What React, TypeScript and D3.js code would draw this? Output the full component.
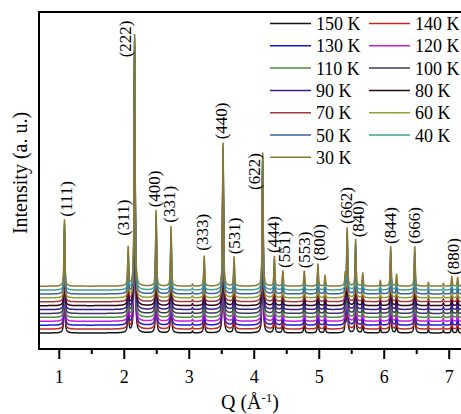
import React from "react";
import * as d3 from "d3";

// ---- data ----
const temps = ["150 K", "140 K", "130 K", "120 K", "110 K", "100 K", "90 K", "80 K", "70 K", "60 K", "50 K", "40 K", "30 K"];
const seriesColors = ["#151515", "#c0282a", "#1a1ad0", "#c81ed6", "#4a8c3e", "#3a3a58", "#3a1890", "#2a0618", "#a23a3a", "#8ea232", "#3a62aa", "#43a094", "#8c7630"];
const seriesOffset = [0, 39, 78, 117, 156, 195, 234, 273, 312, 351, 390, 429, 468];

const peakQ = [1.08, 2.06, 2.16, 2.49, 2.72, 3.05, 3.23, 3.52, 3.69, 4.13, 4.31, 4.44, 4.77, 4.98, 5.09, 5.40, 5.43, 5.56, 5.67, 5.94, 6.10, 6.19, 6.47, 6.68, 6.91, 7.04, 7.13];
const peakH = [670, 390, 2520, 760, 600, 20, 305, 1440, 295, 1340, 300, 155, 155, 225, 105, 110, 580, 470, 135, 55, 400, 115, 400, 38, 28, 95, 85];

const labelText = ["(111)", "(311)", "(222)", "(400)", "(331)", "(333)", "(440)", "(531)", "(622)", "(444)", "(551)", "(553)", "(800)", "(662)", "(840)", "(844)", "(666)", "(880)"];
const labelQ = [1.11, 1.995, 2.026, 2.46, 2.70, 3.20, 3.50, 3.69, 4.01, 4.30, 4.46, 4.77, 5.00, 5.42, 5.61, 6.09, 6.46, 7.06];
const labelBase = [1163, 973, 2757, 1257, 1103, 823, 1937, 787, 1430, 800, 650, 647, 720, 1090, 957, 890, 890, 580];

const xMajorTicks = [1, 2, 3, 4, 5, 6, 7];
const xMinorTicks = [1.5, 2.5, 3.5, 4.5, 5.5, 6.5];

const W = 461, H = 414;
const left = 39, top = 12, bottom = 349, right = 470;

export default function App() {
  const x = d3.scaleLinear().domain([0.688, 7.32]).range([left, right]);
  const y = d3.scaleLinear().domain([-160, 3210]).range([bottom, top]);

  const gamma = 0.009;
  const sigma = 0.006;
  const eta = 0.7;
  const profile = (q: number) => {
    let s = 0;
    for (let i = 0; i < peakQ.length; i++) {
      const d = q - peakQ[i];
      const lor = (gamma * gamma) / (d * d + gamma * gamma);
      const gau = Math.exp(-(d * d) / (2 * sigma * sigma));
      s += peakH[i] * (eta * lor + (1 - eta) * gau);
    }
    return s;
  };
  const qs = d3.range(0.69, 7.32, 0.0015);
  const base = qs.map((q) => [q, profile(q)] as [number, number]);

  const line = d3
    .line<[number, number]>()
    .x((d) => x(d[0]))
    .y((d) => y(d[1]));

  const serif = "'Liberation Serif', 'Times New Roman', serif";

  return (
    <svg width={W} height={H} style={{ position: "fixed", left: 0, top: 0, background: "#fff" }} fontFamily={serif}>
      <defs>
        <clipPath id="plotClip">
          <rect x={left} y={top} width={right - left} height={bottom - top} />
        </clipPath>
      </defs>
      <g clipPath="url(#plotClip)">
        {temps.map((t, i) => (
          <path
            key={t}
            d={line(base.map((p) => [p[0], p[1] + seriesOffset[i]] as [number, number])) || ""}
            fill="none"
            stroke={seriesColors[i]}
            strokeWidth={1.5}
          />
        ))}
      </g>
      {/* frame */}
      <line x1={left} x2={W + 5} y1={top} y2={top} stroke="#000" strokeWidth={2} />
      <line x1={left} x2={W + 5} y1={bottom} y2={bottom} stroke="#000" strokeWidth={2} />
      <line x1={left} x2={left} y1={top - 1} y2={bottom + 1} stroke="#000" strokeWidth={2} />
      {/* ticks */}
      {xMajorTicks.map((t) => (
        <g key={"M" + t}>
          <line x1={x(t)} x2={x(t)} y1={bottom} y2={bottom + 10} stroke="#000" strokeWidth={2} />
          <text x={x(t)} y={383} textAnchor="middle" fontSize={18}>
            {t}
          </text>
        </g>
      ))}
      {xMinorTicks.map((t) => (
        <line key={"m" + t} x1={x(t)} x2={x(t)} y1={bottom} y2={bottom + 5} stroke="#000" strokeWidth={2} />
      ))}
      {/* axis titles */}
      <text x={250} y={409} textAnchor="middle" fontSize={20}>
        Q (Å
        <tspan dy={-7} fontSize={13}>-1</tspan>
        <tspan dy={7}>)</tspan>
      </text>
      <text transform={`translate(27,173) rotate(-90)`} textAnchor="middle" fontSize={20}>
        Intensity (a. u.)
      </text>
      {/* peak labels */}
      {labelText.map((l, i) => (
        <text
          key={l}
          transform={`translate(${x(labelQ[i])},${y(labelBase[i])}) rotate(-90)`}
          dominantBaseline="central"
          fontSize={17}
        >
          {l}
        </text>
      ))}
      {/* legend */}
      {temps.map((t, i) => {
        const col = i % 2;
        const row = Math.floor(i / 2);
        const lx = col === 0 ? 270 : 369;
        const ly = 23.5 + row * 22.3;
        return (
          <g key={"lg" + t}>
            <line x1={lx} x2={lx + 41} y1={ly} y2={ly} stroke={seriesColors[i]} strokeWidth={1.5} />
            <text x={lx + 46} y={ly + 6.5} fontSize={18}>
              {t}
            </text>
          </g>
        );
      })}
    </svg>
  );
}
